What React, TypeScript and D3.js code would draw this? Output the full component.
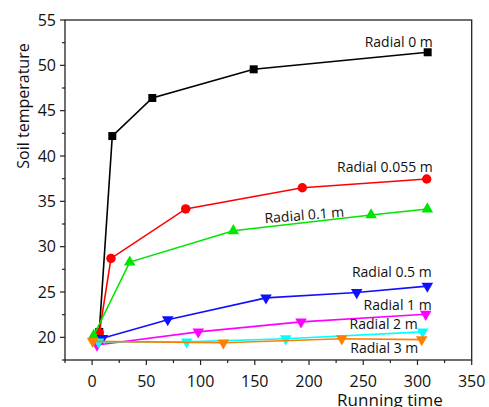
import React from "react";
import * as d3 from "d3";

// ---- data ----
const seriesNames = ["Radial 0 m", "Radial 0.055 m", "Radial 0.1 m", "Radial 0.5 m", "Radial 1 m", "Radial 2 m", "Radial 3 m"];

const r0x = [6.6, 18.6, 55.5, 149, 309.4];
const r0y = [20.6, 42.2, 46.4, 49.56, 51.44];

const r0055x = [6.6, 17.4, 86.3, 193.8, 308.5];
const r0055y = [20.5, 28.7, 34.16, 36.5, 37.46];

const r01x = [1.5, 34.7, 130.2, 257.2, 309.1];
const r01y = [20.2, 28.3, 31.75, 33.5, 34.15];

const r05x = [9.5, 69.7, 160.3, 244, 309.1];
const r05y = [19.9, 21.95, 24.35, 24.95, 25.65];

const r1x = [4.5, 97.9, 192.6, 307.6];
const r1y = [19.15, 20.6, 21.7, 22.55];

const r2x = [6.0, 87.2, 178.5, 304.8];
const r2y = [19.5, 19.5, 19.85, 20.6];

const r3x = [0.5, 121, 230.2, 303.9];
const r3y = [19.55, 19.4, 19.85, 19.75];

const xTicks = [0, 50, 100, 150, 200, 250, 300, 350];
const yTicks = [20, 25, 30, 35, 40, 45, 50, 55];

const colors = ["#000000", "#ff0000", "#00e600", "#1010ff", "#ff00ff", "#00ffff", "#ff7f00"];
const shapes = ["square", "circle", "up", "down", "down", "down", "down"];

// annotation anchors in data units
const labelX = [314.1, 314.1, 159.4, 313.1, 313.1, 300.2, 300.8];
const labelY = [52.06, 38.2, 32.58, 26.62, 23.02, 20.89, 18.24];

const seriesX = [r0x, r0055x, r01x, r05x, r1x, r2x, r3x];
const seriesY = [r0y, r0055y, r01y, r05y, r1y, r2y, r3y];

const W = 489;
const H = 407;
const L = 65, R = 471.7, T = 20, B = 360;
const FONT = "'Open Sans', 'DejaVu Sans', sans-serif";

export default function App() {
  const x = d3.scaleLinear().domain([-25, 350]).range([L, R]);
  const y = d3.scaleLinear().domain([17.5, 55]).range([B, T]);
  const line = d3.line<[number, number]>().x((d) => x(d[0])).y((d) => y(d[1]));

  const xMinor = d3.range(-25, 351, 25);
  const yMinor = d3.range(17.5, 55.01, 2.5);

  const symbolPath = (shape: string) => {
    if (shape === "square") return d3.symbol().type(d3.symbolSquare).size(64)()!;
    if (shape === "circle") return d3.symbol().type(d3.symbolCircle).size(70)()!;
    return d3.symbol().type(d3.symbolTriangle).size(58)()!;
  };

  return (
    <svg width={W} height={H} style={{ position: "absolute", left: 0, top: 0, background: "#fff" }} fontFamily={FONT}>
      <rect x={0} y={0} width={W} height={H} fill="#fff" />
      {/* frame */}
      <rect x={L} y={T} width={R - L} height={B - T} fill="none" stroke="#222" strokeWidth={1.3} />
      {/* x ticks */}
      {xMinor.map((v) => {
        const major = v % 50 === 0;
        return <line key={"xt" + v} x1={x(v)} x2={x(v)} y1={B} y2={B + (major ? 5 : 3)} stroke="#222" strokeWidth={1.2} />;
      })}
      {xTicks.map((v) => (
        <text key={"xl" + v} x={x(v)} y={387} textAnchor="middle" fontSize={16} fill="#111">{v}</text>
      ))}
      {/* y ticks */}
      {yMinor.map((v) => {
        const major = Math.abs(v % 5) < 1e-6;
        return <line key={"yt" + v} x1={L} x2={L - (major ? 5 : 3)} y1={y(v)} y2={y(v)} stroke="#222" strokeWidth={1.2} />;
      })}
      {yTicks.map((v) => (
        <text key={"yl" + v} x={56} y={y(v)} dy="0.35em" textAnchor="end" fontSize={16} fill="#111">{v}</text>
      ))}
      {/* axis titles */}
      <text x={390} y={406} textAnchor="middle" fontSize={17} fill="#111">Running time</text>
      <text transform={`translate(29,106) rotate(-90)`} textAnchor="middle" fontSize={16} fill="#111">Soil temperature</text>
      {/* series */}
      {seriesNames.map((name, i) => {
        const pts: [number, number][] = seriesX[i].map((xv, j) => [xv, seriesY[i][j]]);
        const p = symbolPath(shapes[i]);
        return (
          <g key={name}>
            <path d={line(pts)!} fill="none" stroke={colors[i]} strokeWidth={1.6} />
            {pts.map((d, j) => (
              <path key={j} d={p} fill={colors[i]}
                transform={`translate(${x(d[0])},${y(d[1])})${shapes[i] === "down" ? " rotate(180)" : ""}`} />
            ))}
          </g>
        );
      })}
      {/* annotations */}
      {seriesNames.map((name, i) => (
        i === 2 ? (
          <text key={"lab" + i} transform={`translate(${x(labelX[i])},${y(labelY[i])}) rotate(-4.7)`} fontSize={14} fill="#111" textAnchor="start">{name}</text>
        ) : (
          <text key={"lab" + i} x={x(labelX[i])} y={y(labelY[i])} fontSize={14} fill="#111" textAnchor="end">{name}</text>
        )
      ))}
    </svg>
  );
}
